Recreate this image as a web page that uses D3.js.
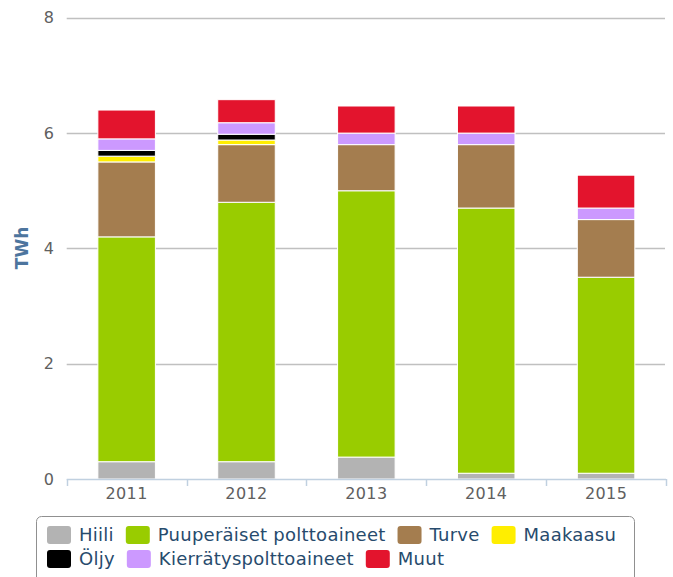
<!DOCTYPE html>
<html>
<head>
<meta charset="utf-8">
<script src="https://cdn.jsdelivr.net/npm/d3@7"></script>
<style>
  body { margin: 0; background: #fff; }
  svg { display: block; font-family: "DejaVu Sans", Verdana, sans-serif; }
</style>
</head>
<body>
<div id="chart"></div>
<script>
// vuodet ja sarjat (TWh)
var years = ["2011", "2012", "2013", "2014", "2015"];
var seriesNames = ["Hiili", "Puuperäiset polttoaineet", "Turve", "Maakaasu", "Öljy", "Kierrätyspolttoaineet", "Muut"];
var seriesColors = ["#b3b3b3", "#99cc00", "#a47d4f", "#ffee00", "#000000", "#cc99ff", "#e3142d"];
var hiili = [0.3, 0.3, 0.38, 0.1, 0.1];
var puu = [3.9, 4.5, 4.62, 4.6, 3.4];
var turve = [1.3, 1.0, 0.8, 1.1, 1.0];
var maakaasu = [0.1, 0.08, 0, 0, 0];
var oljy = [0.1, 0.1, 0, 0, 0];
var kierratys = [0.2, 0.2, 0.2, 0.2, 0.2];
var muut = [0.5, 0.4, 0.47, 0.47, 0.57];
var yTicks = [0, 2, 4, 6, 8];

var seriesValues = [hiili, puu, turve, maakaasu, oljy, kierratys, muut];

var W = 673, H = 577;
var pLeft = 66.7, pRight = 666, pTop = 17.8, pBottom = 479;

var svg = d3.select("#chart").append("svg")
  .attr("width", W).attr("height", H);

var x = d3.scaleBand().domain(years).range([pLeft, pRight])
  .paddingInner(0.52).paddingOuter(0.26);
var xAxisBand = d3.scaleBand().domain(years).range([pLeft, pRight]);
var y = d3.scaleLinear().domain([0, 8]).range([pBottom, pTop]);

// gridlines
svg.append("g").selectAll("line")
  .data(yTicks.filter(function(d){ return d > 0; }))
  .enter().append("line")
  .attr("x1", pLeft).attr("x2", pRight - 1)
  .attr("y1", function(d){ return Math.round(y(d)) + 0.5; })
  .attr("y2", function(d){ return Math.round(y(d)) + 0.5; })
  .attr("stroke", "#c0c0c0").attr("stroke-width", 1.5);

// y labels
svg.append("g").selectAll("text")
  .data(yTicks).enter().append("text")
  .attr("x", 54).attr("y", function(d){ return y(d); })
  .attr("dy", "0.35em")
  .attr("text-anchor", "end")
  .attr("font-size", 16).attr("fill", "#606060")
  .text(function(d){ return d; });

// y title
svg.append("text")
  .attr("transform", "translate(28,248) rotate(-90)")
  .attr("text-anchor", "middle")
  .attr("font-size", 17).attr("font-weight", "bold")
  .attr("fill", "#4d759e")
  .text("TWh");

// stacked data
var table = years.map(function(yr, i){
  var row = { year: yr };
  seriesNames.forEach(function(s, j){ row[s] = seriesValues[j][i]; });
  return row;
});
var stack = d3.stack().keys(seriesNames)(table);

svg.append("g").selectAll("g")
  .data(stack).enter().append("g")
  .attr("fill", function(d, i){ return seriesColors[i]; })
  .selectAll("rect")
  .data(function(d){ return d.filter(function(p){ return p[1] - p[0] > 0; }); })
  .enter().append("rect")
  .attr("x", function(d){ return x(d.data.year); })
  .attr("width", x.bandwidth())
  .attr("y", function(d){ return y(d[1]); })
  .attr("height", function(d){ return y(d[0]) - y(d[1]); })
  .attr("stroke", "#fff").attr("stroke-width", 1);

// x axis
var xa = svg.append("g");
xa.append("line")
  .attr("x1", pLeft).attr("x2", pRight)
  .attr("y1", pBottom + 0.5).attr("y2", pBottom + 0.5)
  .attr("stroke", "#c0d0e0").attr("stroke-width", 1.5);
var tickPos = years.map(function(d){ return xAxisBand(d); }).concat([pRight]);
xa.selectAll(".tick").data(tickPos).enter().append("line")
  .attr("x1", function(d){ return Math.round(d) + 0.5; })
  .attr("x2", function(d){ return Math.round(d) + 0.5; })
  .attr("y1", pBottom).attr("y2", pBottom + 7)
  .attr("stroke", "#c0d0e0").attr("stroke-width", 1.5);
xa.selectAll("text").data(years).enter().append("text")
  .attr("x", function(d){ return xAxisBand(d) + xAxisBand.bandwidth() / 2; })
  .attr("y", 499)
  .attr("text-anchor", "middle")
  .attr("font-size", 16).attr("fill", "#606060")
  .attr("letter-spacing", 0.4)
  .text(function(d){ return d; });

// legend
var lg = svg.append("g");
lg.append("rect")
  .attr("x", 36.5).attr("y", 516.5).attr("width", 598).attr("height", 70)
  .attr("rx", 5).attr("fill", "none").attr("stroke", "#909090");

var rows = [[0, 1, 2, 3], [4, 5, 6]];
var rowY = [535, 559];
rows.forEach(function(r, ri){
  var cx = 47;
  r.forEach(function(si){
    lg.append("rect")
      .attr("x", cx).attr("y", rowY[ri] - 9)
      .attr("width", 24).attr("height", 18).attr("rx", 3)
      .attr("fill", seriesColors[si]);
    var t = lg.append("text")
      .attr("x", cx + 32).attr("y", rowY[ri])
      .attr("dy", "0.35em")
      .attr("font-size", 18).attr("fill", "#274b6d")
      .attr("letter-spacing", 0.25)
      .text(seriesNames[si]);
    cx = cx + 32 + t.node().getComputedTextLength() + 12;
  });
});
</script>
</body>
</html>
